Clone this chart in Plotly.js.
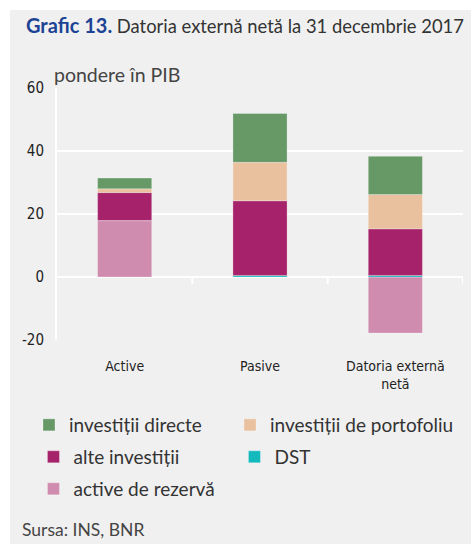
<!DOCTYPE html>
<html>
<head>
<meta charset="utf-8">
<script src="https://cdn.plot.ly/plotly-3.0.1.min.js"></script>
<style>
  html, body { margin: 0; padding: 0; background: #ffffff; }
  #chart { position: absolute; left: 10px; top: 10px; width: 461px; height: 534px; }
</style>
</head>
<body>
<div id="chart"></div>
<script>
// Categories and tick labels
const categories = ['Active', 'Pasive', 'Datoria externă netă'];
const tickLabels = ['Active', 'Pasive', 'Datoria externă<br>netă'];

// Series values (% of GDP)
const investitiiDirecte = [3.4, 15.5, 12.1];
const investitiiPortofoliu = [1.2, 12.2, 10.9];
const alteInvestitii = [8.9, 23.7, 14.8];
const dst = [0, 0.5, 0.5];
const activeRezerva = [17.9, 0, -17.8];

const yTicks = [-20, 0, 20, 40, 60];
const yTickLabels = ['-20', '0', '20', '40', '60'];

const textFont = 'Lato, "Open Sans", sans-serif';
const condFont = '"Liberation Sans Narrow", "DejaVu Sans Condensed", Roboto, sans-serif';

function bar(name, values, color, legendId, legendWidth) {
  const t = {
    type: 'bar', name: name, x: categories, y: values,
    width: 0.4, legend: legendId,
    marker: { color: color, line: { width: 0.8, color: 'rgba(255,255,255,0.35)' } },
    hoverinfo: 'y+name'
  };
  if (legendWidth) t.legendwidth = legendWidth;
  return t;
}

const traces = [
  bar('active de rezervă', activeRezerva, '#cf8cae', 'legend3'),
  bar('DST', dst, '#14b9bd', 'legend2'),
  bar('alte investiții', alteInvestitii, '#a6226a', 'legend2'),
  bar('investiții de portofoliu', investitiiPortofoliu, '#e9c19e', 'legend', 196),
  bar('investiții directe', investitiiDirecte, '#669966', 'legend')
];

const shapes = categories.map((c, i) => ({
  type: 'line', xref: 'x', yref: 'y', ysizemode: 'pixel', yanchor: 0,
  x0: i + 0.5, x1: i + 0.5, y0: 0, y1: -7,
  line: { color: '#ffffff', width: 2 }, layer: 'below'
}));

function legendRow(yPaper) {
  return {
    orientation: 'h', traceorder: 'reversed',
    x: -0.058, xanchor: 'left', y: yPaper, yanchor: 'middle',
    entrywidth: 156, entrywidthmode: 'pixels',
    font: { family: textFont, size: 19, color: '#333333' },
    bgcolor: 'rgba(0,0,0,0)', itemwidth: 30
  };
}

const layout = {
  width: 461, height: 534,
  paper_bgcolor: '#f0f0f0', plot_bgcolor: '#f0f0f0',
  margin: { l: 47, r: 8, t: 78, b: 204 },
  barmode: 'relative',
  showlegend: true,
  title: {
    text: '<b><span style="color:#1d4494;font-size:20px">Grafic 13.</span></b> Datoria externă netă la 31 decembrie 2017',
    font: { family: textFont, size: 18.4, color: '#333333' },
    x: 16 / 461, xref: 'container', xanchor: 'left',
    y: 1 - 17 / 534, yref: 'container', yanchor: 'middle'
  },
  xaxis: {
    type: 'category', range: [-0.5, 2.5],
    tickvals: categories, ticktext: tickLabels,
    showgrid: false, zeroline: false, showline: false, ticks: '',
    tickfont: { family: condFont, size: 14, color: '#222222' },
    ticklabelstandoff: 16
  },
  yaxis: {
    range: [-20, 60], tickvals: yTicks, ticktext: yTickLabels,
    showgrid: true, gridcolor: '#ffffff', gridwidth: 2,
    zeroline: true, zerolinecolor: '#ffffff', zerolinewidth: 2,
    showline: true, linecolor: '#ffffff', linewidth: 2,
    ticks: '', ticklabelstandoff: 8,
    tickfont: { family: condFont, size: 15, color: '#222222' }
  },
  legend: legendRow((330 - 415) / 252),
  legend2: legendRow((330 - 447) / 252),
  legend3: legendRow((330 - 479) / 252),
  shapes: shapes,
  annotations: [
    {
      text: 'pondere în PIB', xref: 'paper', yref: 'paper',
      x: -0.013, y: 1 + 13 / 252, xanchor: 'left', yanchor: 'middle',
      showarrow: false, font: { family: textFont, size: 19.5, color: '#444444' }
    },
    {
      text: 'Sursa: INS, BNR', xref: 'paper', yref: 'paper',
      x: -0.09, y: (330 - 519) / 252, xanchor: 'left', yanchor: 'middle',
      showarrow: false, font: { family: textFont, size: 17.5, color: '#444444' }
    }
  ]
};

Plotly.newPlot('chart', traces, layout, { displayModeBar: false, staticPlot: true });
</script>
</body>
</html>
